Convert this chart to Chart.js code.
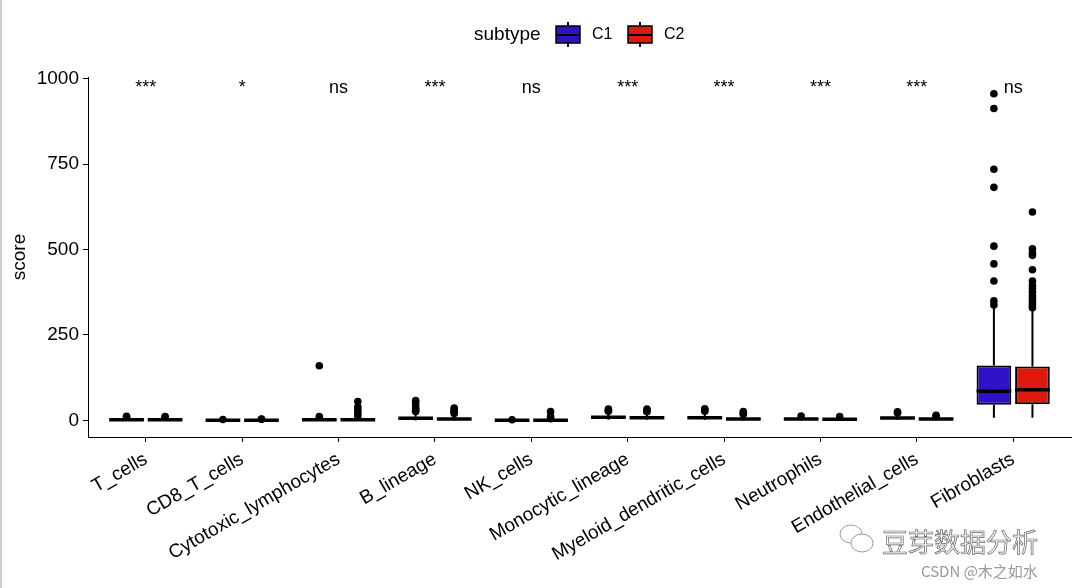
<!DOCTYPE html>
<html>
<head>
<meta charset="utf-8">
<script src="https://cdn.jsdelivr.net/npm/chart.js@4/dist/chart.umd.min.js"></script>
<style>
  html, body { margin: 0; padding: 0; background: #fff; }
  canvas { display: block; }
</style>
</head>
<body>
<canvas id="scoreChart" width="1073" height="588"></canvas>
<script>
// cell types on the x axis
const categories = ['T_cells', 'CD8_T_cells', 'Cytotoxic_lymphocytes', 'B_lineage', 'NK_cells',
  'Monocytic_lineage', 'Myeloid_dendritic_cells', 'Neutrophils', 'Endothelial_cells', 'Fibroblasts'];

// significance label per cell type (C1 vs C2)
const sigLabels = ['***', '*', 'ns', '***', 'ns', '***', '***', '***', '***', 'ns'];
const sigLabelY = 957;

const yTicks = [0, 250, 500, 750, 1000];

// box stats: [lower whisker, q1, median, q3, upper whisker]
const c1Stats = [
  [0, 1, 2, 4, 8],
  [0, 0.2, 0.5, 0.9, 1.8],
  [0, 1, 2, 4, 8],
  [0, 3, 6, 11, 24],
  [0, 0.2, 0.4, 0.8, 1.6],
  [2, 6, 9, 13, 24],
  [1, 5, 8, 12, 24],
  [0, 2, 4, 6, 10],
  [1, 4, 7, 11, 20],
  [8, 46, 85, 161, 333]
];
const c2Stats = [
  [0, 1, 2, 4, 7],
  [0, 0.3, 0.7, 1.2, 2.4],
  [0, 1, 2, 4, 9],
  [0, 2, 4, 8, 17],
  [0, 0.3, 0.6, 1.2, 2.4],
  [2, 5, 8, 12, 22],
  [0, 2, 4, 7, 15],
  [0, 2, 3, 5, 9],
  [0, 2, 4, 6, 11],
  [8, 47, 90, 158, 324]
];

const c1Outliers = [
  [10, 12],
  [2.6],
  [11, 160],
  [26, 30, 35, 42, 52, 58],
  [2],
  [27, 30, 33],
  [27, 31, 34],
  [13],
  [22, 25],
  [338, 350, 408, 458, 510, 682, 735, 913, 956]
];
const c2Outliers = [
  [9, 11],
  [3.5, 4],
  [13, 21, 30, 39, 55],
  [20, 24, 28, 32, 36],
  [5, 12, 26],
  [25, 29, 33],
  [18, 22, 26],
  [11],
  [13, 15],
  [330, 336, 343, 350, 358, 365, 375, 385, 395, 408, 441, 483, 490, 502, 610]
];

const c1Color = '#3011C8';
const c2Color = '#E0190E';
const font = 'Liberation Sans, Arial, sans-serif';

function boxData(stats) {
  return stats.map((s, i) => ({ x: i, y: [s[1], s[3]] }));
}

// whiskers, medians and outlier points on top of the floating bars
const boxPlugin = {
  id: 'boxExtras',
  afterDatasetsDraw(chart) {
    const ctx = chart.ctx;
    const y = chart.scales.y;
    const area = chart.chartArea;
    ctx.save();
    ctx.beginPath();
    ctx.rect(area.left, area.top, area.right - area.left, area.bottom - area.top);
    ctx.clip();
    [[c1Stats, c1Outliers], [c2Stats, c2Outliers]].forEach(([stats, outs], d) => {
      chart.getDatasetMeta(d).data.forEach((bar, i) => {
        const [lo, q1, med, q3, hi] = stats[i];
        const half = bar.width / 2;
        ctx.strokeStyle = '#000';
        ctx.lineWidth = 2;
        ctx.beginPath();
        ctx.moveTo(bar.x, y.getPixelForValue(q3));
        ctx.lineTo(bar.x, y.getPixelForValue(hi));
        ctx.moveTo(bar.x, y.getPixelForValue(q1));
        ctx.lineTo(bar.x, y.getPixelForValue(lo));
        ctx.stroke();
        ctx.lineWidth = 3.5;
        ctx.beginPath();
        ctx.moveTo(bar.x - half, y.getPixelForValue(med));
        ctx.lineTo(bar.x + half, y.getPixelForValue(med));
        ctx.stroke();
        ctx.fillStyle = '#000';
        outs[i].forEach(v => {
          ctx.beginPath();
          ctx.arc(bar.x, y.getPixelForValue(v), 3.8, 0, Math.PI * 2);
          ctx.fill();
        });
      });
    });
    ctx.restore();
  },
  afterDraw(chart) {
    const ctx = chart.ctx;
    const x = chart.scales.x;
    const y = chart.scales.y;
    ctx.save();

    // significance labels
    ctx.fillStyle = '#000';
    ctx.font = '18px ' + font;
    ctx.textAlign = 'center';
    ctx.textBaseline = 'alphabetic';
    sigLabels.forEach((s, i) => {
      ctx.fillText(s, x.getPixelForValue(i), y.getPixelForValue(sigLabelY));
    });

    // legend
    const cy = 35;
    ctx.textAlign = 'left';
    ctx.textBaseline = 'middle';
    ctx.font = '19px ' + font;
    ctx.fillText('subtype', 474, cy);
    [[c1Color, 'C1', 556], [c2Color, 'C2', 628]].forEach(([col, txt, kx]) => {
      ctx.fillStyle = col;
      ctx.fillRect(kx, cy - 9, 24, 17);
      ctx.strokeStyle = '#000';
      ctx.lineWidth = 1.5;
      ctx.strokeRect(kx, cy - 9, 24, 17);
      ctx.lineWidth = 2;
      ctx.beginPath();
      ctx.moveTo(kx, cy);
      ctx.lineTo(kx + 24, cy);
      ctx.moveTo(kx + 12, cy - 13);
      ctx.lineTo(kx + 12, cy - 9);
      ctx.moveTo(kx + 12, cy + 8);
      ctx.lineTo(kx + 12, cy + 12);
      ctx.stroke();
      ctx.fillStyle = '#000';
      ctx.font = '16px ' + font;
      ctx.fillText(txt, kx + 36, cy);
    });

    // watermark
    ctx.strokeStyle = '#999';
    ctx.lineWidth = 1;
    ctx.beginPath();
    ctx.ellipse(851, 534, 11, 9, 0, 0, Math.PI * 2);
    ctx.stroke();
    ctx.fillStyle = '#fff';
    ctx.beginPath();
    ctx.ellipse(862, 543, 11, 9, 0, 0, Math.PI * 2);
    ctx.fill();
    ctx.stroke();
    ctx.font = '26px "Noto Sans CJK SC", sans-serif';
    ctx.fillStyle = '#fafafa';
    ctx.strokeStyle = '#666';
    ctx.lineWidth = 0.7;
    ctx.fillText('豆芽数据分析', 882, 542);
    ctx.strokeText('豆芽数据分析', 882, 542);
    ctx.font = '15px "Noto Sans CJK SC", sans-serif';
    ctx.fillStyle = '#999';
    ctx.fillText('CSDN @木之如水', 921, 571);

    // left page edge
    ctx.fillStyle = '#cfcfcf';
    ctx.fillRect(0, 0, 2, chart.height);
    ctx.restore();
  }
};

const ctx = document.getElementById('scoreChart').getContext('2d');
const scoreChart = new Chart(ctx, {
  type: 'bar',
  data: {
    datasets: [{
      label: 'C1',
      data: boxData(c1Stats),
      backgroundColor: c1Color,
      borderColor: '#000',
      borderWidth: 2,
      borderSkipped: false
    }, {
      label: 'C2',
      data: boxData(c2Stats),
      backgroundColor: c2Color,
      borderColor: '#000',
      borderWidth: 2,
      borderSkipped: false
    }]
  },
  options: {
    responsive: false,
    animation: false,
    layout: { padding: { top: 77, right: 2, left: 0, bottom: 0 } },
    plugins: {
      legend: { display: false },
      tooltip: { enabled: false }
    },
    scales: {
      x: {
        type: 'linear',
        min: -0.6,
        max: 9.6,
        offset: false,
        afterBuildTicks: axis => { axis.ticks = categories.map((c, i) => ({ value: i })); },
        afterFit: axis => { axis.height = 151; },
        grid: { display: true, offset: false, drawOnChartArea: false, drawTicks: true, tickLength: 5, color: '#000' },
        border: { display: true, color: '#000', width: 1 },
        ticks: {
          autoSkip: false,
          maxRotation: 30,
          minRotation: 30,
          padding: 6,
          color: '#000',
          font: { family: font, size: 19 },
          callback: (v) => categories[v]
        }
      },
      y: {
        min: -48.6,
        max: 1005,
        afterBuildTicks: axis => { axis.ticks = yTicks.map(v => ({ value: v })); },
        afterFit: axis => { axis.width = 88; },
        grid: { display: true, drawOnChartArea: false, drawTicks: true, tickLength: 5, color: '#000' },
        border: { display: true, color: '#000', width: 1 },
        ticks: { color: '#000', padding: 4, font: { family: font, size: 19 }, callback: v => String(v) },
        title: { display: true, text: 'score', color: '#000', font: { family: font, size: 19 }, padding: { top: 8 } }
      }
    }
  },
  plugins: [boxPlugin]
});
</script>
</body>
</html>
